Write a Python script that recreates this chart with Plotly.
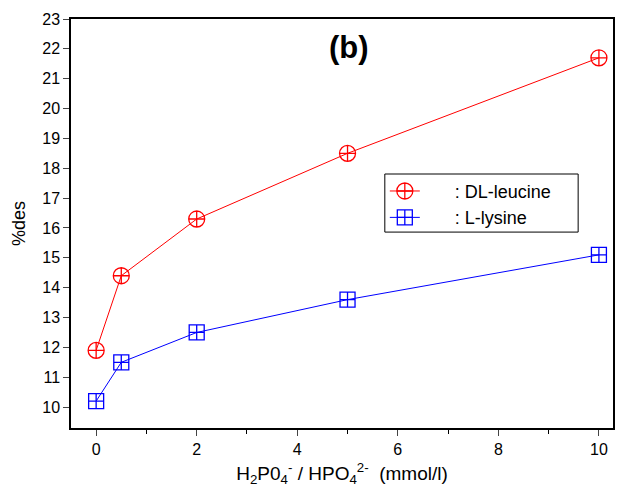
import plotly.graph_objects as go

x_vals = [0, 0.5, 2, 5, 10]
leucine = [11.9, 14.4, 16.3, 18.5, 21.7]
lysine = [10.2, 11.5, 12.5, 13.6, 15.1]
names = ["      : DL-leucine", "      : L-lysine"]

fig = go.Figure()
fig.add_trace(go.Scatter(x=x_vals, y=leucine, mode="lines+markers", name=names[0],
                         line=dict(color="red", width=1),
                         marker=dict(symbol="circle-cross-open", size=16, color="red", line=dict(width=1.3))))
fig.add_trace(go.Scatter(x=x_vals, y=lysine, mode="lines+markers", name=names[1],
                         line=dict(color="blue", width=1),
                         marker=dict(symbol="square-cross-open", size=15, color="blue", line=dict(width=1.3))))

font = "Liberation Sans, Arial, sans-serif"
fig.update_layout(
    width=617, height=492,
    margin=dict(l=71, r=2, t=19, b=64),
    plot_bgcolor="white", paper_bgcolor="white",
    font=dict(family=font, size=16, color="black"),
    showlegend=True,
    legend=dict(x=0.579, y=0.624, xanchor="left", yanchor="top",
                borderwidth=0, bgcolor="rgba(0,0,0,0)",
                font=dict(size=18), tracegroupgap=0),
    shapes=[dict(type="rect", xref="paper", yref="paper", x0=0.579, x1=0.9357, y0=0.479, y1=0.621,
                 line=dict(color="black", width=1), fillcolor="rgba(0,0,0,0)", layer="above")],
    xaxis=dict(range=[-0.5, 10.28], tickvals=[0, 2, 4, 6, 8, 10], ticks="outside", ticklen=6,
               tickwidth=1.3, linecolor="black", linewidth=1.5, mirror=True, showgrid=False,
               zeroline=False, tickfont=dict(size=16),
               minor=dict(tickvals=[1, 3, 5, 7, 9], ticks="outside", ticklen=4, tickwidth=1.3, tickcolor="black"),
               title=dict(text="H<sub>2</sub>P0<sub>4</sub><sup>-</sup> / HPO<sub>4</sub><sup>2-</sup>  (mmol/l)",
                          font=dict(size=19), standoff=10)),
    yaxis=dict(range=[9.3, 23], tickvals=list(range(10, 24)), ticks="outside", ticklen=6,
               tickwidth=1.3, linecolor="black", linewidth=1.5, mirror=True, showgrid=False,
               zeroline=False, tickfont=dict(size=16),
               title=dict(text="%des", font=dict(size=18), standoff=12)),
    annotations=[dict(text="<b>(b)</b>", x=0.513, y=0.931, xref="paper", yref="paper",
                      xanchor="center", yanchor="middle",
                      showarrow=False, font=dict(size=31, family=font))],
)

fig.write_html("out.html")
